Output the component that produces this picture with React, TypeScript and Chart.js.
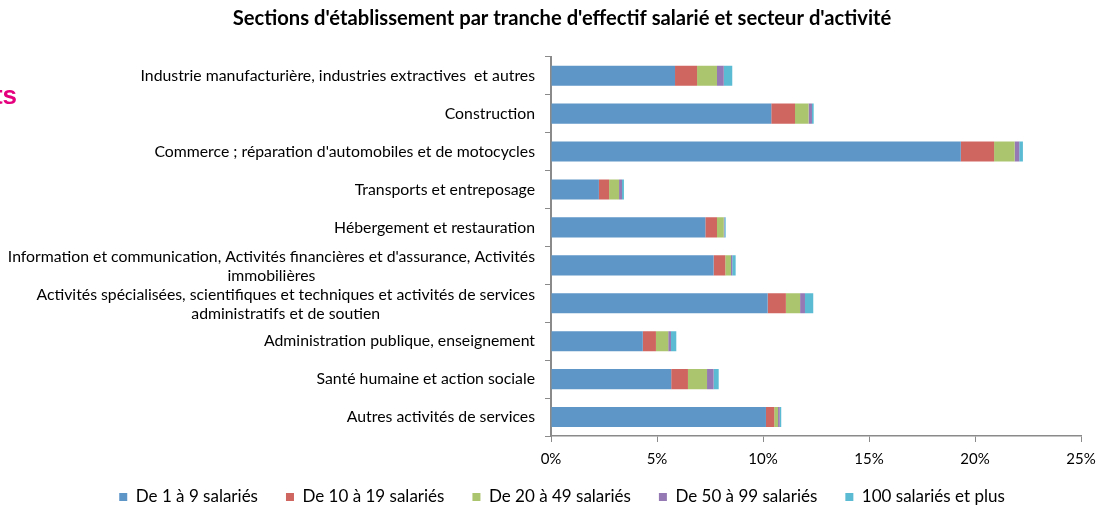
import React, { useEffect, useRef } from "react";
import { Chart, registerables } from "chart.js";

Chart.register(...registerables);

const categories: (string | string[])[] = [
  "Industrie manufacturière, industries extractives  et autres",
  "Construction",
  "Commerce ; réparation d'automobiles et de motocycles",
  "Transports et entreposage",
  "Hébergement et restauration",
  ["Information et communication, Activités financières et d'assurance, Activités", "immobilières"],
  ["Activités spécialisées, scientifiques et techniques et activités de services", "administratifs et de soutien"],
  "Administration publique, enseignement",
  "Santé humaine et action sociale",
  "Autres activités de services",
];

const seriesNames = [
  "De 1 à 9 salariés",
  "De 10 à 19 salariés",
  "De 20 à 49 salariés",
  "De 50 à 99 salariés",
  "100 salariés et plus",
];

const s1to9 = [5.85, 10.39, 19.33, 2.26, 7.28, 7.67, 10.22, 4.33, 5.67, 10.14];
const s10to19 = [1.04, 1.12, 1.57, 0.48, 0.55, 0.55, 0.86, 0.62, 0.79, 0.39];
const s20to49 = [0.94, 0.64, 0.97, 0.47, 0.32, 0.27, 0.67, 0.58, 0.9, 0.18];
const s50to99 = [0.32, 0.16, 0.22, 0.14, 0.03, 0.06, 0.23, 0.13, 0.31, 0.08];
const s100plus = [0.4, 0.08, 0.17, 0.09, 0.06, 0.16, 0.39, 0.25, 0.24, 0.07];

const xTicks = [0, 5, 10, 15, 20, 25];

const colors = ["#5f96c8", "#cf6660", "#abc46e", "#9479b4", "#5bbbd3"];

const FONT = "Lato, 'Open Sans', sans-serif";

const labelPlugin = {
  id: "catLabels",
  afterDraw(chart: any) {
    const ctx = chart.ctx;
    const yScale = chart.scales.y;
    const xRight = chart.chartArea.left - 16;
    ctx.save();
    ctx.font = `15.8px ${FONT}`;
    ctx.fillStyle = "#000";
    ctx.textBaseline = "middle";
    categories.forEach((lab, i) => {
      const y = yScale.getPixelForValue(i);
      if (Array.isArray(lab)) {
        const lh = 19;
        const w1 = ctx.measureText(lab[0]).width;
        const cx = xRight - w1 / 2;
        const y0 = y - ((lab.length - 1) * lh) / 2 + 1;
        lab.forEach((line, j) => {
          if (j === 0) {
            ctx.textAlign = "right";
            ctx.fillText(line, xRight, y0);
          } else {
            ctx.textAlign = "center";
            ctx.fillText(line, cx, y0 + j * lh);
          }
        });
      } else {
        ctx.textAlign = "right";
        ctx.fillText(lab, xRight, y);
      }
    });
    ctx.restore();
  },
};

const legendShift = {
  id: "legendShift",
  afterLayout(chart: any) {
    const l = chart.legend;
    if (l) {
      l.top -= 15.5;
      l.bottom -= 15.5;
    }
  },
};

export default function App() {
  const ref = useRef<HTMLCanvasElement>(null);
  useEffect(() => {
    document.body.style.margin = "0";
    const series = [s1to9, s10to19, s20to49, s50to99, s100plus];
    const chart = new Chart(ref.current!, {
      type: "bar",
      data: {
        labels: categories.map((c) => (Array.isArray(c) ? c.join(" ") : c)),
        datasets: series.map((d, i) => ({
          label: seriesNames[i],
          data: d,
          backgroundColor: colors[i],
          borderWidth: 0,
          barPercentage: 0.53,
          categoryPercentage: 1,
        })),
      },
      options: {
        indexAxis: "y",
        animation: false,
        responsive: false,
        layout: { padding: { left: 37, right: 11, top: 0, bottom: 0 } },
        scales: {
          x: {
            stacked: true,
            min: 0,
            max: 25,
            afterBuildTicks: (scale: any) => {
              scale.ticks = xTicks.map((v) => ({ value: v }));
            },
            afterFit: (scale: any) => {
              scale.paddingRight = 17;
            },
            ticks: {
              callback: (v: any) => v + "%",
              color: "#000",
              font: { family: FONT, size: 15, lineHeight: 1.2 },
              padding: 8,
              maxRotation: 0,
            },
            grid: {
              drawOnChartArea: false,
              drawTicks: true,
              tickLength: 6,
              color: "#8a8a8a",
            },
            border: { display: true, color: "#8a8a8a", width: 1.5 },
          },
          y: {
            stacked: true,
            afterFit: (scale: any) => {
              scale.width = 514;
            },
            ticks: { callback: () => "", padding: 0 },
            grid: {
              offset: true,
              drawOnChartArea: false,
              drawTicks: true,
              tickLength: 6,
              color: "#8a8a8a",
            },
            border: { display: true, color: "#8a8a8a", width: 2 },
          },
        },
        plugins: {
          title: {
            display: true,
            text: "Sections d'établissement par tranche d'effectif salarié et secteur d'activité",
            color: "#000",
            font: { family: FONT, size: 20.2, weight: "bold" },
            padding: { top: 6.5, bottom: 26 },
          },
          legend: {
            position: "bottom",
            labels: {
              color: "#000",
              font: { family: FONT, size: 17 },
              boxWidth: 8,
              boxHeight: 8,
              padding: 28,
            },
          },
          tooltip: { enabled: false },
        },
      },
      plugins: [labelPlugin, legendShift],
    });
    return () => chart.destroy();
  }, []);
  return (
    <div style={{ position: "relative", width: 1098, height: 507, overflow: "hidden", background: "#fff" }}>
      <canvas ref={ref} width={1098} height={531} style={{ display: "block" }} />
      <div
        style={{
          position: "absolute",
          right: 1081,
          top: 80,
          fontFamily: "'Liberation Sans', Arial, sans-serif",
          fontWeight: "bold",
          fontSize: 26,
          color: "#e5007d",
          whiteSpace: "nowrap",
          lineHeight: "30px",
        }}
      >
        ts
      </div>
    </div>
  );
}
